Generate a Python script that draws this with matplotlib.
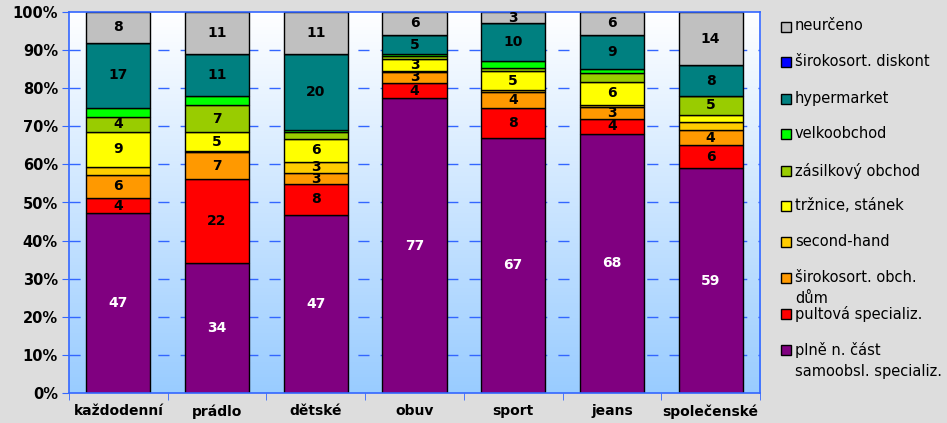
import numpy as np
import matplotlib
matplotlib.use("Agg")
import matplotlib.pyplot as plt
from matplotlib.colors import LinearSegmentedColormap
from matplotlib.patches import Rectangle

# categories of goods
kategorie = ["každodenní", "prádlo", "dětské", "obuv", "sport", "jeans", "společenské"]

# shop types, stacked from bottom to top (values in %)
plne_samoobsl = [47, 34, 47, 77, 67, 68, 59]
pultova = [4, 22, 8, 4, 8, 4, 6]
obch_dum = [6, 7, 3, 3, 4, 3, 4]
second_hand = [2.2, 0.3, 3, 0.3, 0.5, 0.7, 2]
trznice = [9, 5, 6, 3, 5, 6, 2]
zasilkovy = [4, 7, 1.8, 0.8, 0.8, 2.2, 5]
velkoobchod = [2.4, 2.4, 0.6, 0.5, 1.8, 1.1, 0]
hypermarket = [17, 11, 20, 5, 10, 9, 8]
diskont = [0, 0, 0, 0, 0, 0, 0]
neurceno = [8, 11, 11, 6, 3, 6, 14]

nazvy = ["plně n. část\nsamoobsl. specializ.", "pultová specializ.",
         "širokosort. obch.\ndům", "second-hand", "tržnice, stánek",
         "zásilkový obchod", "velkoobchod", "hypermarket",
         "širokosort. diskont", "neurčeno"]
barvy = ["#800080", "#FF0000", "#FF9900", "#FFCC00", "#FFFF00",
         "#99CC00", "#00FF00", "#008080", "#0000FF", "#C0C0C0"]

data = np.array([plne_samoobsl, pultova, obch_dum, second_hand, trznice,
                 zasilkovy, velkoobchod, hypermarket, diskont, neurceno], dtype=float)
podil = data / data.sum(axis=0) * 100

modra = "#3366FF"

fig = plt.figure(figsize=(9.47, 4.23), dpi=100, facecolor="#DDDDDD")
ax = fig.add_axes([69 / 947, 1 - 393 / 423, (760 - 69) / 947, (393 - 12) / 423])

x = np.arange(len(kategorie))
ax.set_xlim(-0.5, len(kategorie) - 0.5)
ax.set_ylim(0, 100)

# gradient background of the plot area
cmap = LinearSegmentedColormap.from_list("bg", ["#99CCFF", "#FFFFFF"])
grad = np.linspace(0, 1, 256).reshape(-1, 1)
ax.imshow(grad, extent=(-0.5, len(kategorie) - 0.5, 0, 100), origin="lower",
          aspect="auto", cmap=cmap, zorder=0)

for yv in range(10, 100, 10):
    ax.axhline(yv, color=modra, lw=1, ls=(0, (8, 8)), zorder=1)

spodek = np.zeros(len(kategorie))
for i in range(len(nazvy)):
    ax.bar(x, podil[i], 0.65, bottom=spodek, color=barvy[i],
           edgecolor="black", linewidth=1, zorder=2)
    for j in range(len(kategorie)):
        if data[i, j] >= 3:
            ax.text(x[j], spodek[j] + podil[i, j] / 2, f"{data[i, j]:g}",
                    ha="center", va="center", fontsize=10, fontweight="bold",
                    color="white" if i == 0 else "black", zorder=3)
    spodek += podil[i]

for s in ax.spines.values():
    s.set_color(modra)
    s.set_linewidth(1.2)

ax.set_yticks(range(0, 101, 10))
ax.set_yticklabels([f"{v}%" for v in range(0, 101, 10)], fontsize=10.5, fontweight="bold")
ax.set_xticks(x)
ax.set_xticklabels(kategorie, fontsize=10, fontweight="bold")
ax.set_xticks(np.arange(-0.5, len(kategorie)), minor=True)
ax.tick_params(axis="x", which="major", length=0, pad=8)
ax.tick_params(axis="x", which="minor", length=5, color=modra)
ax.tick_params(axis="y", length=5, color=modra, pad=3)

# legend drawn by hand, top entry is the last series
leg_y = [27, 62, 99, 134, 171, 206, 242, 278, 314, 350]
for k, (nazev, barva) in enumerate(zip(nazvy[::-1], barvy[::-1])):
    yc = 1 - leg_y[k] / 423
    fig.patches.append(Rectangle((781 / 947, yc - 5 / 423), 10 / 947, 10 / 423,
                                 transform=fig.transFigure, facecolor=barva,
                                 edgecolor="black", linewidth=1))
    fig.text(795 / 947, yc + 8.5 / 423, nazev, ha="left", va="top",
             fontsize=10.5, linespacing=1.55)

fig.savefig("out.png", dpi=100, facecolor=fig.get_facecolor())
